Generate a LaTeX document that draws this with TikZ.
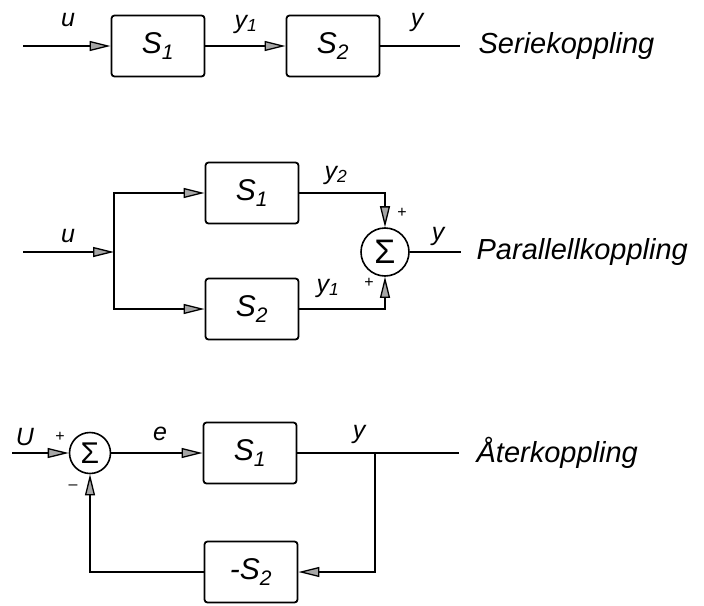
\documentclass[tikz,border=0pt]{standalone}
\usepackage{amsmath}
\usepackage{fontspec}
\setsansfont{Liberation Sans}
\usepackage{tikz}
\usetikzlibrary{arrows.meta}

\tikzset{
    blk/.style={draw, line width=1.8pt, rounded corners=3pt, minimum width=93pt,
        minimum height=61pt, inner sep=0pt, font=\fontsize{30}{32}\selectfont\sffamily\itshape},
    sumnode/.style={draw, circle, line width=1.6pt, inner sep=0pt, font=\fontsize{34}{34}\selectfont\sffamily},
    sig/.style={font=\fontsize{25}{27}\selectfont\sffamily\itshape},
    title/.style={anchor=west, inner sep=0pt, font=\fontsize{29}{31}\selectfont\sffamily\itshape},
    sgn/.style={font=\fontsize{16}{16}\selectfont\sffamily},
    tip/.style={-{Triangle[length=21pt, width=10pt, fill=gray!70]}},
}

\begin{document}
\begin{tikzpicture}[x=1pt, y=-1pt, line width=1.3pt]
    \useasboundingbox (0, 0) rectangle (704, 605);

    % Seriekoppling
    \coordinate (in1) at (23, 46);
    \node[blk] (s1a) at (158, 46) {S\textsubscript{1}};
    \node[blk] (s2a) at (333, 46) {S\textsubscript{2}};
    \coordinate (out1) at (460, 46);
    \draw[tip] (in1) -- (s1a);
    \draw[tip] (s1a) -- (s2a);
    \draw (s2a) -- (out1);
    \node[sig] (u1) at (68, 20) {u};
    \node[sig] (y1a) at (246, 24) {y\textsubscript{1}};
    \node[sig] (ya) at (417, 22) {y};
    \node[title] (t1) at (478, 46) {Seriekoppling};

    % Parallellkoppling
    \coordinate (in2) at (23, 252);
    \coordinate (split) at (114, 252);
    \node[blk] (s1b) at (252, 193) {S\textsubscript{1}};
    \node[blk] (s2b) at (252, 309) {S\textsubscript{2}};
    \node[sumnode, minimum size=48pt] (sum2) at (385, 252) {Σ};
    \coordinate (out2) at (461, 252);
    \draw[tip] (in2) -- (split);
    \draw[tip] (split) |- (s1b);
    \draw[tip] (split) |- (s2b);
    \draw[tip] (s1b) -| (sum2);
    \draw[tip] (s2b) -| (sum2);
    \draw (sum2) -- (out2);
    \node[sig] (u2) at (68, 236) {u};
    \node[sig] (y2b) at (336, 175) {y\textsubscript{2}};
    \node[sig] (y1b) at (328, 288) {y\textsubscript{1}};
    \node[sig] (yb) at (438, 236) {y};
    \node[sgn] (p1) at (402, 213) {+};
    \node[sgn] (p2) at (369, 283) {+};
    \node[title] (t2) at (476, 252) {Parallellkoppling};

    % Aterkoppling
    \coordinate (in3) at (12, 453);
    \node[sumnode, minimum size=41pt, font=\fontsize{30}{30}\selectfont\sffamily] (sum3) at (90, 453) {Σ};
    \node[blk] (s1c) at (250, 453) {S\textsubscript{1}};
    \coordinate (branch) at (375, 453);
    \coordinate (out3) at (459, 453);
    \node[blk] (s2c) at (251, 572) {-S\textsubscript{2}};
    \draw[tip] (in3) -- (sum3);
    \draw[tip] (sum3) -- (s1c);
    \draw (s1c) -- (out3);
    \draw[tip] (branch) |- (s2c);
    \draw[tip] (s2c) -| (sum3);
    \node[sig] (u3) at (25, 437) {U};
    \node[sgn] (p3) at (60, 437) {+};
    \node[sgn] (m3) at (73, 487) {--};
    \node[sig] (e3) at (160, 434) {e};
    \node[sig] (yc) at (359, 434) {y};
    \node[title] (t3) at (476, 453) {Återkoppling};
\end{tikzpicture}
\end{document}
